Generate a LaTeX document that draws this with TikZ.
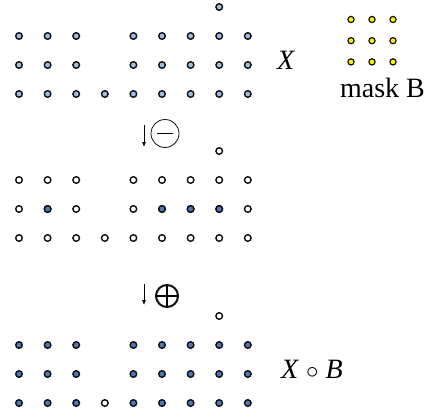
\documentclass[tikz,border=0pt]{standalone}
\usepackage{fontspec}
\setmainfont{Liberation Serif}
\usetikzlibrary{arrows.meta}
\definecolor{ink}{HTML}{111111}
\definecolor{pale}{HTML}{9DBDE3}
\definecolor{deep}{HTML}{4A78B8}
\definecolor{mask}{HTML}{FFF200}
\tikzset{>=Latex,
  dot/.style={circle,draw=ink,line width=1.4pt,inner sep=0pt,minimum size=6.6pt},
  orig/.style={dot,fill=pale},
  hit/.style={dot,fill=deep},
  miss/.style={dot,fill=white},
  probe/.style={circle,draw=ink,fill=mask,line width=1.2pt,inner sep=0pt,minimum size=6.2pt},
  lab/.style={font=\fontsize{28}{32}\selectfont,inner sep=0pt,anchor=base},
  opsign/.style={circle,draw=ink,inner sep=0pt,outer sep=0pt}}
\begin{document}
\begin{tikzpicture}[x=1pt,y=-1pt]
  \useasboundingbox (0,0) rectangle (438,417);
  % set X
  \node[orig] (x-7-a) at (19+28.6*7,7) {};
  \foreach \r in {0,1}
    \foreach \c in {0,1,2,4,5,6,7,8}
      \node[orig] (x-\c-\r) at (19+28.6*\c,36+29*\r) {};
  \foreach \c in {0,...,8}
    \node[orig] (x-\c-2) at (19+28.6*\c,94) {};
  \node[lab] (xlab) at (286,70) {\textit{X}};
  % mask B
  \foreach \r in {0,1,2}
    \foreach \c in {0,1,2}
      \node[probe] (b-\c-\r) at (351+21*\c,19.5+21.2*\r) {};
  \node[lab] (blab) at (382.5,98) {mask B};
  % erosion
  \coordinate (e-top) at (144,125);
  \coordinate (e-bot) at (144,147);
  \draw[-{Latex[length=5pt,width=4pt]},line width=0.7pt] (e-top) -- (e-bot);
  \node[opsign,line width=0.8pt,minimum size=28pt] (minus) at (165,133.5) {};
  \draw[line width=0.8pt] ([xshift=-8pt]minus.center) -- ([xshift=8pt]minus.center);
  \node[miss] (e-7-a) at (19+28.6*7,151) {};
  \foreach \r in {0,1}
    \foreach \c in {0,1,2,4,5,6,7,8}
      \node[miss] (e-\c-\r) at (19+28.6*\c,180+29*\r) {};
  \foreach \c in {0,...,8}
    \node[miss] (e-\c-2) at (19+28.6*\c,238) {};
  \foreach \c in {1,5,6,7}
    \node[hit] at (e-\c-1) {};
  % dilation
  \coordinate (d-top) at (144,284);
  \coordinate (d-bot) at (144,305);
  \draw[-{Latex[length=5pt,width=4pt]},line width=0.7pt] (d-top) -- (d-bot);
  \node[opsign,line width=2pt,minimum size=22pt] (plus) at (167,296) {};
  \draw[line width=2pt] (plus.north) -- (plus.south) (plus.west) -- (plus.east);
  \node[miss] (o-7-a) at (19+28.6*7,316) {};
  \foreach \r in {0,1}
    \foreach \c in {0,1,2,4,5,6,7,8}
      \node[hit] (o-\c-\r) at (19+28.6*\c,345+29*\r) {};
  \foreach \c in {0,1,2,4,5,6,7,8}
    \node[hit] (o-\c-2) at (19+28.6*\c,403) {};
  \node[miss] (o-3-2) at (19+28.6*3,403) {};
  \node[lab] (olab) at (312,378) {\textit{X} $\circ$ \textit{B}};
\end{tikzpicture}
\end{document}
